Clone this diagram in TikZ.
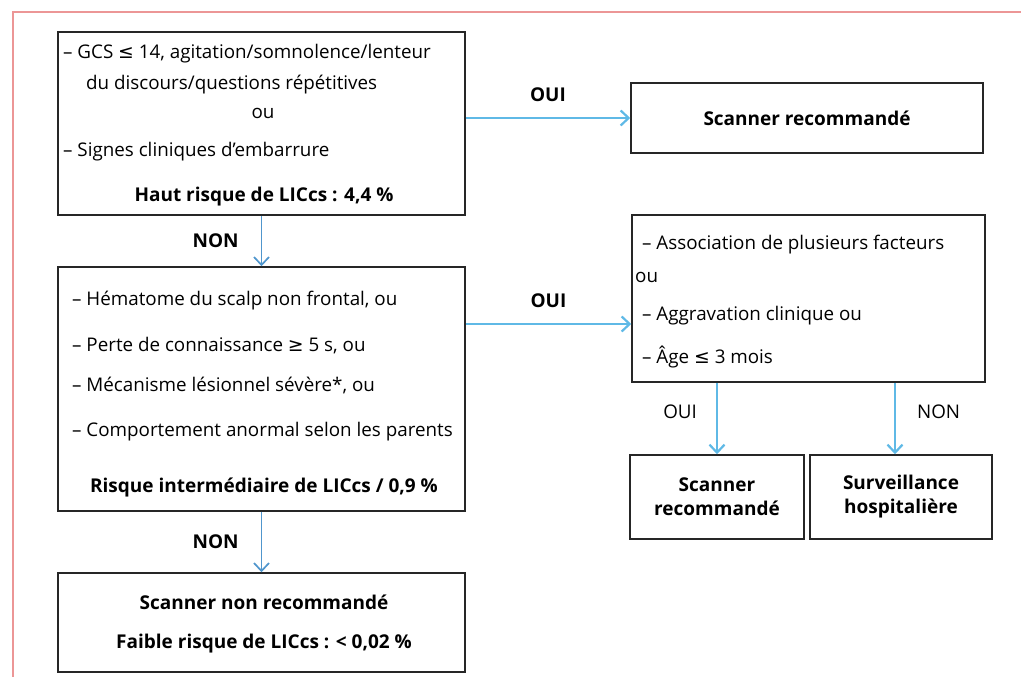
\documentclass[tikz,border=0pt]{standalone}
\usepackage{fontspec}
\setmainfont{Open Sans}
\newfontfamily\symfont{DejaVu Sans}
\usetikzlibrary{arrows.meta}
\definecolor{framered}{RGB}{236,150,150}
\definecolor{arrowblue}{RGB}{95,185,230}
\definecolor{arrowdark}{RGB}{80,150,205}
\newcommand{\leqs}{{\symfont ≤}}
\newcommand{\geqs}{{\symfont ≥}}

\begin{document}
\begin{tikzpicture}[
  x=1pt, y=-1pt,
  font=\fontsize{18.8}{24}\selectfont, >={Straight Barb[length=8pt,width=15pt]},
  box/.style={draw=black!85, line width=1.5pt, align=center, inner sep=0pt},
  leftbox/.style={box, minimum width=407pt},
  txt/.style={anchor=base west, inner sep=0pt},
  ctr/.style={anchor=base, inner sep=0pt},
  ctrb/.style={ctr, font=\fontsize{19}{24}\selectfont\bfseries},
  lbl/.style={inner sep=0pt},
  lblb/.style={lbl, font=\fontsize{19}{24}\selectfont\bfseries},
  arr/.style={->, draw=arrowblue, line width=2.2pt},
  arrthin/.style={arr, draw=arrowdark, line width=1.7pt},
]
\useasboundingbox (0,0) rectangle (1021,677);
% ---------- frame ----------
\draw[framered, line width=2.5pt] (13,677) -- (13,12) -- (1021,12);

% ---------- LEFT column ----------
\node[leftbox, minimum height=183pt] (A) at (261.5,123.5) {};
\node[txt] (a1) at (63,59)  {– GCS \leqs{} 14, agitation/somnolence/lenteur};
\node[txt] (a2) at (86,90)  {du discours/questions répétitives};
\node[ctr] (a3) at (263,118) {ou};
\node[txt] (a4) at (63,157) {– Signes cliniques d’embarrure};
\node[ctrb] (a5) at (264,201) {Haut risque de LICcs : 4,4 \%};

\node[leftbox, minimum height=244pt] (C) at (261.5,389) {};
\node[txt] (c1) at (72,305) {– Hématome du scalp non frontal, ou};
\node[txt] (c2) at (72,351) {– Perte de connaissance \geqs{} 5 s, ou};
\node[txt] (c3) at (72,391) {– Mécanisme lésionnel sévère*, ou};
\node[txt] (c4) at (72,436) {– Comportement anormal selon les parents};
\node[ctrb] (c5) at (264,492) {Risque intermédiaire de LICcs / 0,9 \%};

\node[leftbox, minimum height=99pt] (E) at (261.5,622.5) {};
\node[ctrb] (e1) at (264,609) {Scanner non recommandé};
\node[ctrb] (e2) at (264,648) {Faible risque de LICcs : < 0,02 \%};

% ---------- RIGHT column ----------
\node[box, minimum width=352pt, minimum height=70pt, font=\fontsize{19}{24}\selectfont\bfseries] (B) at (807,118) {Scanner recommandé};

\node[box, minimum width=353pt, minimum height=167pt] (D) at (808.5,298.5) {};
\node[txt] (d1) at (642,249) {– Association de plusieurs facteurs};
\node[txt] (d2) at (635,282) {ou};
\node[txt] (d3) at (642,320) {– Aggravation clinique ou};
\node[txt] (d4) at (642,363) {– Âge \leqs{} 3 mois};

\node[box, minimum width=174pt, minimum height=84pt, font=\fontsize{19}{24}\selectfont\bfseries] (F) at (717,497) {Scanner\\recommandé};
\node[box, minimum width=182pt, minimum height=84pt, font=\fontsize{19}{24}\selectfont\bfseries] (G) at (901,497) {Surveillance\\hospitalière};
\coordinate (gtop) at ([xshift=-6pt]G.north);

% ---------- arrows ----------
\draw[arr] (A.east |- B.west) -- node[lblb, above=15pt]{OUI} (B.west);
\draw[arr] ([yshift=-25.5pt]D.west -| C.east) -- node[lblb, above=15pt]{OUI} ([yshift=-25.5pt]D.west);
\draw[arrthin] (A.south) -- node[lblb, left=22pt]{NON} (C.north);
\draw[arrthin] (C.south) -- node[lblb, left=22pt]{NON} (E.north);
\draw[arr] (D.south -| F.north) -- node[lbl, left=19pt, yshift=7pt]{OUI} (F.north);
\draw[arr] (D.south -| gtop) -- node[lbl, right=21pt, yshift=7pt]{NON} (gtop);
\end{tikzpicture}
\end{document}
